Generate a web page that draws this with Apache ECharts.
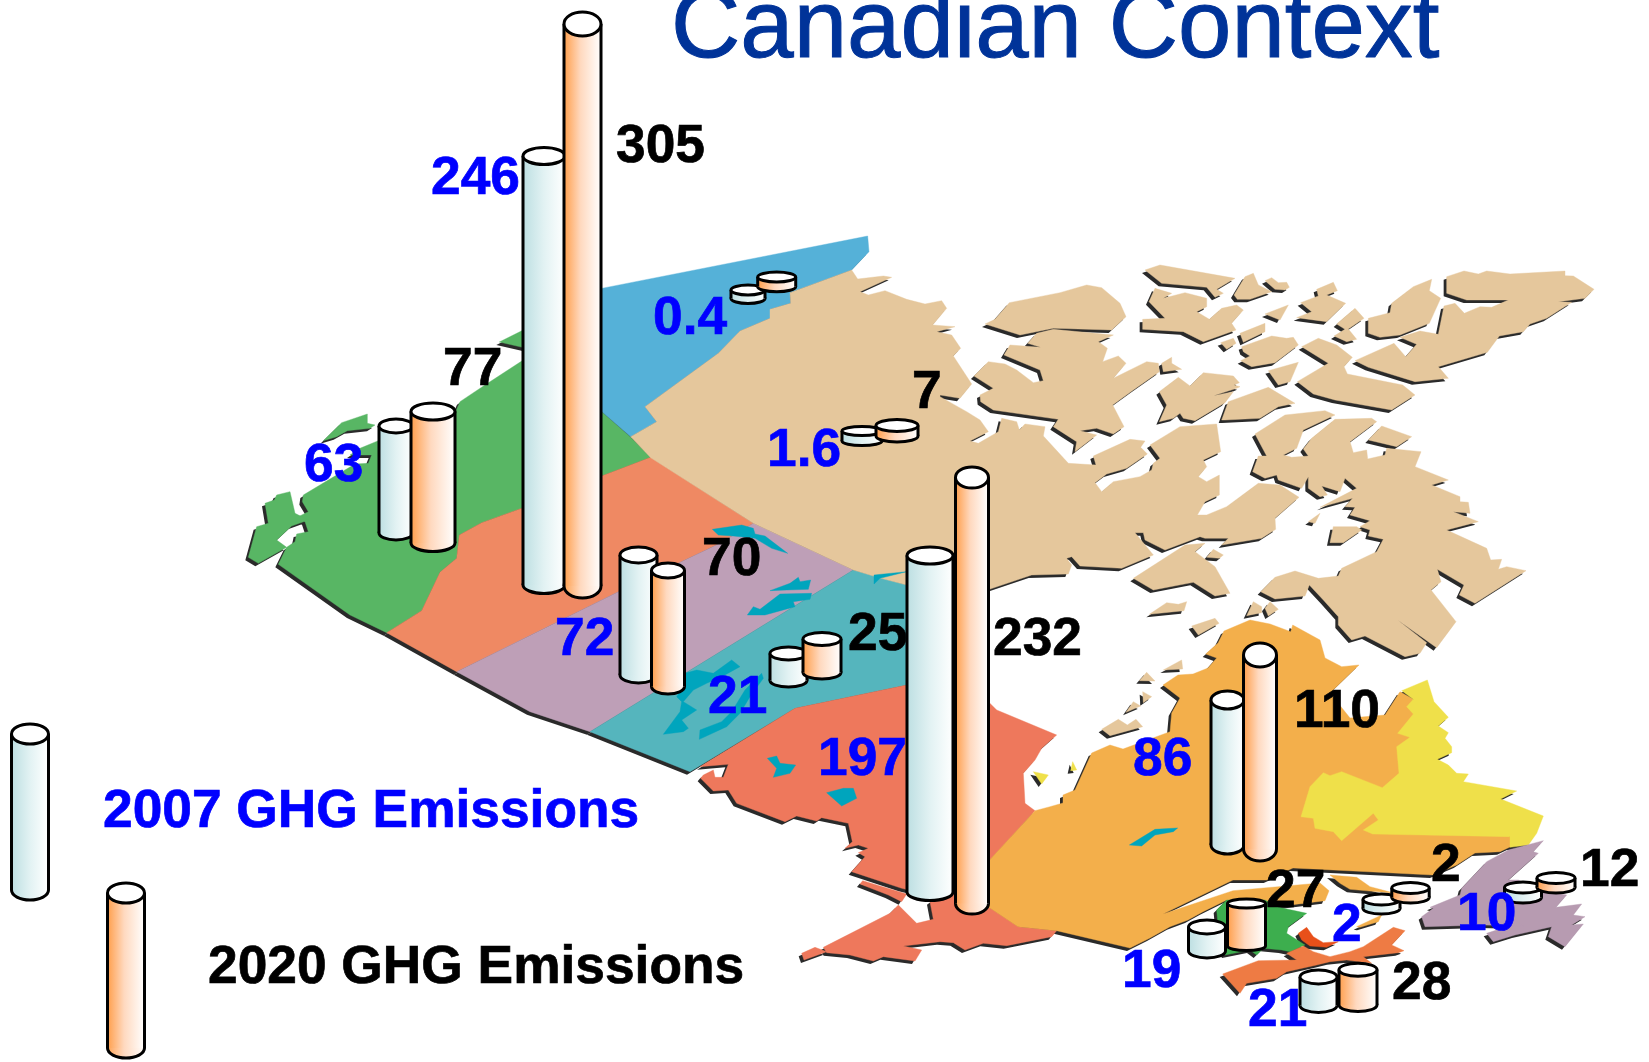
<!DOCTYPE html>
<html><head><meta charset="utf-8">
<style>html,body{margin:0;padding:0;background:#fff}#c{width:1649px;height:1062px}</style>
<script src="https://cdn.jsdelivr.net/npm/echarts@6/dist/echarts.min.js"></script>
</head><body><div id="c"></div>
<script>
// ---------- chart values ----------
const provinces = ['Yukon','NWT','BC','Alberta','Saskatchewan','Manitoba','Ontario','Quebec','Nova Scotia','New Brunswick','PEI','Newfoundland'];
const emissions2007 = [0.4,1.6,63,246,72,21,197,86,19,21,2,10];
const emissions2020 = [null,7,77,305,70,25,232,110,27,28,2,12];
const titleText = 'Canadian Context';
const legend2007 = '2007 GHG Emissions';
const legend2020 = '2020 GHG Emissions';

// column feet and tops in map units
const foot2007X = [748,862,396,544,638.5,788.5,930,1227.5,1207,1318.5,1381.5,1523];
const foot2007Y = [298.5,441,533,585,675,680.5,892,845,951,1005.5,908.5,897.5];
const top2007Y  = [290,431,426,156,555,653.5,555.5,700,927,977,899.5,887.5];
const foot2020X = [776.7,897,433,582.5,668,822,972,1260,1246.5,1358,1410.5,1556];
const foot2020Y = [286.7,436,543,586,686.5,672.5,903.5,849,946,1005,897.5,887.5];
const top2020Y  = [277,425.5,411.5,24,570.5,639,477.5,655,903.5,969.7,888,878];
const radiusX2007 = [17,20,17,21,18.5,18.5,23,16.5,18.5,18.5,18.5,18.5];
const radiusY2007 = [5,4.5,7,8.5,8,6.5,8.5,9,7,7,5.5,5.5];
const radiusX2020 = [19,21,22,18.5,16.5,19,16.5,16.5,19,19,18.7,19];
const radiusY2020 = [5,6,8.5,12,7.5,6.5,10.5,12,4.5,6.5,5.5,5.5];

// data-label anchors (left edge, middle)
const label2007X = [653,767,304,431,555,708,818,1133,1122,1248,1332,1457];
const label2007Y = [319,451,466,179,640,698,760,760,972,1011,926,915];
const label2020X = [null,912,443,616,702,848,993,1294,1266,1392,1431,1580];
const label2020Y = [null,393,370,147,560,635,640,712,892,984,866,871];

// ---------- map outlines ----------
const sheet = (ox, oy, pts) => pts.map(p => [ox + p[0] / 3, oy + p[1] / 3]);

const bcMain = sheet(240,320,[[115,733],[330,885],[440,938],[545,872],[600,757],[650,715],[658,645],[725,608],[850,563],[1085,468],[1232,412],[1172,352],[1085,275],[1000,200],[850,120],[735,195],[660,245],[648,272],[620,310],[415,362],[360,385],[330,405],[395,405],[385,430],[345,432],[190,525],[187,545],[205,575],[175,590],[195,605],[205,635],[170,642],[165,665],[140,682]]);
const bcIsle1 = sheet(240,320,[[75,550],[103,540],[110,525],[150,515],[165,580],[205,600],[155,618],[110,660],[140,682],[55,730],[25,712],[50,620],[85,610]]);
const bcIsle2 = sheet(240,320,[[250,362],[305,308],[382,282],[382,310],[405,315],[390,325],[322,332],[290,350]]);
const bcTip = sheet(240,320,[[778,66],[850,30],[860,85]]);
const alberta = sheet(240,320,[[440,938],[545,872],[600,757],[650,715],[658,645],[725,608],[850,563],[1085,468],[1232,412],[1540,610],[1440,670],[1135,815],[650,1055]]);
const saskatchewan = sheet(240,320,[[650,1055],[870,1175],[1050,1235],[1840,750],[1540,610],[1440,670],[1135,815]]);
const manitoba = [[590,731.7],[690,771.7],[795,708.3],[906.7,685],[930,680],[930,590],[906.7,585],[853.3,570]];
const yukon = sheet(590,230,[[0,182],[833,18],[837,65],[785,120],[600,188],[602,220],[540,238],[540,265],[450,303],[385,370],[165,530],[200,575],[122,620],[36,545],[0,510]]);
const ontario = sheet(680,660,[[62,355],[70,345],[100,330],[105,352],[130,352],[145,313],[60,320],[345,145],[680,75],[900,70],[925,125],[950,150],[1130,225],[1085,265],[1065,300],[1030,340],[1035,430],[1065,452],[925,605],[925,740],[1015,800],[1130,812],[1115,830],[980,857],[910,850],[855,870],[820,848],[780,845],[670,858],[725,870],[705,903],[610,890],[580,903],[510,885],[440,878],[430,862],[630,760],[655,735],[710,790],[760,778],[750,725],[770,710],[665,685],[515,635],[555,590],[535,578],[565,565],[535,555],[495,565],[517,545],[505,490],[425,473],[410,483],[350,468],[315,485],[170,430],[145,390],[100,393]]);
const ontarioBar = sheet(680,660,[[548,662],[680,702],[665,725],[625,705],[540,672]]);
const ontarioTail = sheet(680,660,[[365,880],[405,862],[440,875],[372,900]]);
const quebec = [[1035,810.7],[1050,806.7],[1063,803],[1063,795],[1075,790],[1091.7,753],[1110,745],[1123,749],[1170,731.7],[1171.7,713],[1180,698],[1163,685],[1178,675],[1193,674],[1208,668],[1216.7,658],[1205.7,654],[1218,643],[1224,631],[1250,620],[1270,624],[1290.7,631.7],[1292.7,625],[1320,640],[1325,658],[1341.7,666.7],[1359,665],[1330,693],[1350,718],[1385,715],[1400,691.7],[1413,699],[1430,760],[1510,836.7],[1510,847],[1500,851.7],[1475,853],[1456.7,865],[1433,875],[1293,868],[1266.7,880],[1233,880],[1163,914],[1233,890.7],[1320,883],[1329,890.7],[1325,900.7],[1276.7,906.7],[1226.7,900],[1203,911.7],[1188,920],[1170,926.7],[1150,938],[1130,948],[1056.7,930.7],[1018,926.7],[988,906.7],[988,861.7]];
const quebecBit1 = sheet(1150,820,[[540,165],[620,172],[660,200],[735,220],[600,208],[570,190]]);
const quebecBit2 = sheet(1150,820,[[620,320],[695,285],[685,305],[630,322]]);
const labrador = sheet(1050,600,[[1055,272],[1132,240],[1152,305],[1195,352],[1165,378],[1195,398],[1185,415],[1205,440],[1205,458],[1162,478],[1195,495],[1220,520],[1255,522],[1240,545],[1400,573],[1352,597],[1480,648],[1460,700],[1435,735],[1380,742],[1380,710],[968,702],[940,690],[985,660],[970,640],[875,722],[850,695],[795,685],[790,655],[753,650],[780,560],[820,518],[840,527],[875,515],[997,563],[1047,520],[1040,440],[1080,412],[1043,400],[1090,342],[1070,320],[1090,298]]);
const novaScotia = sheet(1150,820,[[200,270],[230,240],[345,240],[385,262],[425,270],[470,280],[415,320],[410,340],[465,375],[420,395],[395,390],[340,385],[320,405],[300,390],[225,405],[210,380]]);
const capeCurve = sheet(1150,820,[[445,340],[470,322],[490,350],[520,368],[565,365],[530,382],[480,378],[455,360]]);
const newBrunswick = sheet(1150,820,[[218,462],[325,422],[440,420],[410,400],[460,378],[490,395],[540,410],[600,395],[640,380],[730,322],[765,332],[725,375],[762,392],[745,398],[640,410],[665,430],[590,420],[540,425],[500,435],[410,455],[380,475],[290,490],[270,520]]);
const newfoundland = sheet(1150,820,[[815,290],[850,265],[840,262],[930,225],[935,205],[1010,125],[1075,90],[1180,62],[1150,95],[1165,100],[1075,180],[1105,180],[1165,210],[1250,225],[1218,262],[1295,252],[1270,285],[1305,290],[1265,315],[1300,312],[1245,380],[1195,350],[1205,320],[1095,345],[1030,365],[1010,340],[1040,330],[1100,305],[1120,318],[1000,315],[825,320]]);

const nwtMain = [].concat(
  sheet(590,230,[[122,620],[200,575],[165,530],[385,370],[450,303],[540,265],[540,238],[602,220],[600,188],[785,120],[803,147],[880,138],[905,142],[810,185],[835,195],[885,182],[950,208],[1005,222],[1055,212],[1070,235],[1028,285],[1095,290],[1040,305],[1085,315],[1112,355],[1090,378],[1145,462],[1110,505],[1050,495],[1050,500],[1130,545],[1170,570],[1195,605],[1140,633],[1165,640]]),
  sheet(950,250,[[145,545],[155,505],[200,515],[208,540],[225,522],[285,530],[280,558],[355,640],[438,645],[430,618],[540,568],[585,573],[572,592],[592,612],[530,655],[470,672],[435,698],[455,725],[490,695],[570,680],[605,660],[610,640],[630,625],[600,585],[690,530],[800,522],[812,605],[760,630],[770,650],[745,680],[770,695],[808,675],[808,735],[765,755],[742,795],[770,795],[830,770],[925,700],[990,705],[1047,742],[975,805],[977,838],[935,865],[815,885],[835,865],[765,865],[750,860],[645,900],[585,870],[580,848],[555,848],[610,915],[515,955],[390,948],[365,920],[350,925],[365,945],[355,972],[245,975],[118,1018]]),
  [[906.7,585],[880,578],[853.3,570],[753.3,523.3],[650.7,457.7]]
);
const westIsles = [
  [[105,222],[135,208],[178,158],[330,128],[410,105],[455,113],[510,160],[528,200],[485,240],[310,235],[210,255]],
  [[72,378],[115,335],[165,342],[200,360],[250,398],[280,392],[270,360],[162,315],[180,285],[272,292],[233,280],[260,250],[310,238],[490,255],[445,275],[472,295],[458,335],[505,318],[528,340],[490,385],[590,335],[625,340],[628,365],[550,420],[488,465],[522,530],[490,552],[440,535],[390,542],[440,555],[375,605],[380,575],[310,530],[325,508],[130,480],[92,455],[90,435],[130,415]],
  [[585,60],[630,45],[855,85],[800,118],[820,130],[795,142],[770,112],[635,100]],
  [[615,115],[665,130],[640,145],[705,128],[770,145],[770,170],[740,185],[778,208],[815,175],[860,165],[880,180],[845,220],[858,240],[760,275],[700,245],[578,238],[578,208],[645,205],[597,155]],
  [[852,135],[885,80],[910,70],[925,105],[965,125],[900,148],[862,148]],
  [[945,92],[965,83],[985,98],[1010,97],[1018,112],[1005,120],[975,118]],
  [[945,192],[1015,165],[990,210]],
  [[1040,203],[1085,185],[1052,158],[1105,138],[1100,118],[1150,97],[1162,122],[1130,135],[1187,160],[1130,215]],
  [[870,250],[945,220],[945,245],[880,277]],
  [[812,278],[850,265],[858,280],[830,298]],
  [[875,290],[965,258],[1010,265],[1030,262],[1045,285],[975,338],[905,350],[872,332],[900,318],[880,305]],
  [[955,362],[1045,337],[1020,395],[985,405]],
  [[635,340],[665,322],[665,340],[695,358],[640,365]],
  [[628,425],[685,382],[720,408],[760,368],[850,378],[868,398],[852,405],[870,410],[860,415],[790,437],[850,425],[825,458],[735,512],[700,505],[690,490],[670,505],[628,515],[650,465]],
  [[815,510],[835,455],[955,412],[1035,460],[985,470],[930,505],[825,510]],
  [[550,985],[705,885],[765,880],[735,905],[795,950],[840,1030],[795,1038],[730,997],[610,1020]],
  [[770,922],[790,898],[820,915],[808,925]]
].map(p => sheet(950,250,p));
const eastIsles = [
  [[45,552],[135,495],[255,482],[285,495],[190,540],[170,595],[130,615],[155,622],[205,618],[190,597],[215,565],[285,508],[395,505],[410,515],[330,575],[340,608],[380,600],[383,627],[435,615],[440,595],[543,605],[525,650],[625,690],[575,705],[660,740],[660,755],[685,757],[690,790],[640,785],[715,815],[620,840],[740,895],[752,930],[785,928],[775,958],[800,950],[858,962],[705,1060],[658,1035],[672,1005],[592,958],[603,995],[573,1020],[648,1115],[590,1193],[473,1110],[560,1178],[540,1210],[495,1220],[375,1158],[335,1170],[295,1125],[295,1100],[250,1050],[208,1005],[195,1038],[105,1047],[62,1025],[105,982],[165,963],[235,985],[295,978],[305,955],[410,905],[430,868],[385,858],[390,840],[360,830],[390,812],[330,795],[345,772],[315,770],[338,745],[240,772],[350,715],[315,685],[300,725],[245,708],[262,735],[240,740],[205,715],[205,680],[185,715],[115,690],[110,675],[75,685],[38,665],[55,618],[80,618]],
  [[172,395],[265,340],[185,290],[235,265],[290,285],[337,322],[312,350],[322,372],[488,405],[525,435],[455,480],[285,450],[220,432]],
  [[620,80],[672,63],[715,72],[740,63],[810,72],[975,63],[975,77],[1000,78],[1062,118],[1035,145],[955,155],[995,157],[920,205],[870,222],[850,245],[778,258],[742,307],[595,350],[625,385],[525,395],[385,352],[345,332],[462,280],[497,320],[530,283],[480,262],[540,243],[595,253],[612,168],[645,160],[673,190],[720,170],[755,172],[805,150],[680,150],[620,130]],
  [[385,205],[450,188],[455,160],[520,110],[575,88],[568,122],[602,145],[568,220],[480,255],[420,262],[385,250]],
  [[290,222],[345,175],[372,205],[325,237],[350,268],[320,275],[282,258],[315,238]],
  [[205,815],[240,790],[225,820]],
  [[270,878],[280,830],[350,830],[365,840],[310,878]],
  [[385,570],[425,528],[515,560],[470,590]],
  [[20,1097],[40,1055],[65,1070],[65,1088]],
  [[75,1075],[90,1055],[115,1078],[85,1098]]
].map(p => sheet(1240,250,p));
const bayIsles = [
  [[298,43],[350,8],[385,13],[410,5],[402,32]],
  [[425,78],[495,55],[507,70],[445,105]],
  [[340,210],[395,180],[398,207]],
  [[268,242],[290,217],[315,243]],
  [[228,337],[250,305],[272,318]],
  [[278,275],[305,290],[280,308]],
  [[155,388],[205,358],[232,375],[258,358],[278,380],[180,407]]
].map(p => sheet(1050,600,p));
const yellowSpecks = [
  sheet(680,660,[[1060,335],[1105,345],[1085,372]]),
  sheet(680,660,[[1178,305],[1190,330],[1172,332]])
];
const lakes = [
  sheet(590,230,[[367,898],[455,885],[490,895],[495,912],[525,918],[593,970],[545,955],[495,925],[430,918],[385,915]]),
  sheet(590,230,[[540,1082],[600,1060],[625,1042],[630,1055],[662,1050],[655,1078],[590,1080]]),
  sheet(590,230,[[472,1155],[490,1130],[510,1138],[570,1092],[665,1090],[660,1108],[610,1115],[615,1130],[525,1155]]),
  sheet(590,230,[[852,1035],[950,1025],[870,1045],[852,1062]]),
  sheet(650,640,[[105,100],[140,90],[190,100],[245,60],[270,80],[215,110],[170,130],[130,150],[100,185],[140,210],[95,240],[115,265],[100,275],[40,283],[90,215],[95,185],[80,170],[105,130]]),
  sheet(650,640,[[148,298],[150,270],[215,245],[245,215],[285,150],[335,100],[340,115],[300,170],[270,220],[230,260]]),
  sheet(680,660,[[262,295],[290,288],[300,310],[347,315],[330,340],[280,352],[290,325]]),
  sheet(680,660,[[440,398],[490,385],[520,385],[530,415],[485,438]]),
  sheet(1050,600,[[238,735],[315,688],[383,684],[370,695],[315,705],[275,738]])
];

const GREEN='#58B664', CORAL='#EF8963', MAUVE='#BE9FB7', TEAL='#55B5BD', BLUE='#55B1D8', BEIGE='#E5C79C', RED='#EE785C', AMBER='#F3AF4B', YELLOW='#EFE04A';
const land = [];
const add = (c, list) => list.forEach(p => land.push({pts:p, color:c}));
add(GREEN,[bcMain,bcIsle1,bcIsle2,bcTip]);
add(BLUE,[yukon]);
add(CORAL,[alberta]);
add(MAUVE,[saskatchewan]);
add(TEAL,[manitoba]);
add(BEIGE,[nwtMain].concat(westIsles,eastIsles,bayIsles));
add(RED,[ontario,ontarioBar,ontarioTail]);
add(AMBER,[quebec,quebecBit1,quebecBit2]);
add(YELLOW,[labrador].concat(yellowSpecks));
add('#3DAE4E',[novaScotia]);
add('#E8501A',[capeCurve]);
add('#EE7B44',[newBrunswick]);
add('#B79BB1',[newfoundland]);
add('#00A5BD',lakes);

function polyRender(dark){
  return function(params, api){
    const item = land[api.value(0)];
    if (dark && item.color === '#00A5BD') return null;
    const pts = item.pts.map(p => api.coord(p));
    return {
      type:'polygon', x: dark ? -3 : 0, y: dark ? 3 : 0,
      shape:{points:pts},
      style: dark ? {fill:'#2a2a2a'} : {fill:item.color, stroke:item.color, lineWidth:0.4},
      silent:true
    };
  };
}

const grad2007 = {type:'linear',x:0,y:0,x2:1,y2:0,colorStops:[{offset:0,color:'#BDDFE2'},{offset:0.5,color:'#E2F2F3'},{offset:1,color:'#FFFFFF'}]};
const grad2020 = {type:'linear',x:0,y:0,x2:1,y2:0,colorStops:[{offset:0,color:'#FF9F4C'},{offset:0.45,color:'#FFD9BF'},{offset:1,color:'#FFFFFF'}]};

function cylinderRender(fill){
  return function(params, api){
    const x = api.value(0), foot = api.value(1), top = api.value(2);
    const rx = api.value(3), ry = api.value(4);
    const a = api.coord([x, top]), b = api.coord([x, foot]);
    const st = {stroke:'#000', lineWidth:3};
    return {type:'group', silent:true, children:[
      {type:'ellipse', shape:{cx:b[0],cy:b[1],rx:rx,ry:ry}, style:Object.assign({fill:fill},st)},
      {type:'rect', shape:{x:a[0]-rx,y:a[1],width:2*rx,height:b[1]-a[1]}, style:{fill:fill}},
      {type:'line', shape:{x1:a[0]-rx,y1:a[1],x2:a[0]-rx,y2:b[1]}, style:st},
      {type:'line', shape:{x1:a[0]+rx,y1:a[1],x2:a[0]+rx,y2:b[1]}, style:st},
      {type:'ellipse', shape:{cx:a[0],cy:a[1],rx:rx,ry:ry}, style:Object.assign({fill:'#fff'},st)}
    ]};
  };
}
function labelRender(color, rows){
  return function(params, api){
    const r = rows[params.dataIndex];
    const p = api.coord([r[0], r[1]]);
    return {type:'text', x:p[0], y:p[1], silent:true, style:{
      text:String(r[2]), fill:color, align:'left', verticalAlign:'middle',
      stroke:color, lineWidth:0.7,
      fontFamily:'"Liberation Sans", Arial, sans-serif', fontWeight:'bold', fontSize:53.3
    }};
  };
}
const zip = (xs, ys, ts, rxs, rys) => xs.map((x,i)=>[x, ys[i], ts[i], rxs[i], rys[i]]);
const labelRows = (xs, ys, vs) => xs.map((x,i)=>[x, ys[i], vs[i]]).filter(r => r[2] !== null);
const rows2007 = labelRows(label2007X,label2007Y,emissions2007).concat([[103,812,legend2007]]);
const rows2020 = labelRows(label2020X,label2020Y,emissions2020).concat([[208,968,legend2020]]);

const common = {type:'custom', coordinateSystem:'cartesian2d', clip:false, animation:false, silent:true};
const option = {
  animation:false,
  backgroundColor:'#fff',
  title:{text:titleText, left:666, top:-22, textStyle:{color:'#003399', fontFamily:'"Liberation Sans", Arial, sans-serif', fontWeight:'normal', fontSize:96, textBorderColor:'#003399', textBorderWidth:1}},
  grid:{left:0,right:0,top:0,bottom:0},
  xAxis:{type:'value',min:0,max:1649,show:false},
  yAxis:{type:'value',min:0,max:1062,inverse:true,show:false},
  series:[
    Object.assign({},common,{name:'coast',  data:land.map((d,i)=>[i]), renderItem:polyRender(true), encode:{x:[],y:[]}}),
    Object.assign({},common,{name:'land',   data:land.map((d,i)=>[i]), renderItem:polyRender(false), encode:{x:[],y:[]}}),
    Object.assign({},common,{name:legend2007, data:zip(foot2007X,foot2007Y,top2007Y,radiusX2007,radiusY2007).concat([[30,890,734,18.5,10]]), renderItem:cylinderRender(grad2007)}),
    Object.assign({},common,{name:legend2020, data:zip(foot2020X,foot2020Y,top2020Y,radiusX2020,radiusY2020).concat([[126,1048,893,18.5,10]]), renderItem:cylinderRender(grad2020)}),
    Object.assign({},common,{name:'labels2007', data:rows2007.map((r,i)=>[i]), renderItem:labelRender('#0000FF',rows2007), encode:{x:[],y:[]}}),
    Object.assign({},common,{name:'labels2020', data:rows2020.map((r,i)=>[i]), renderItem:labelRender('#000000',rows2020), encode:{x:[],y:[]}})
  ]
};
const chart = echarts.init(document.getElementById('c'), null, {renderer:'canvas', width:1649, height:1062});
chart.setOption(option);
</script></body></html>
